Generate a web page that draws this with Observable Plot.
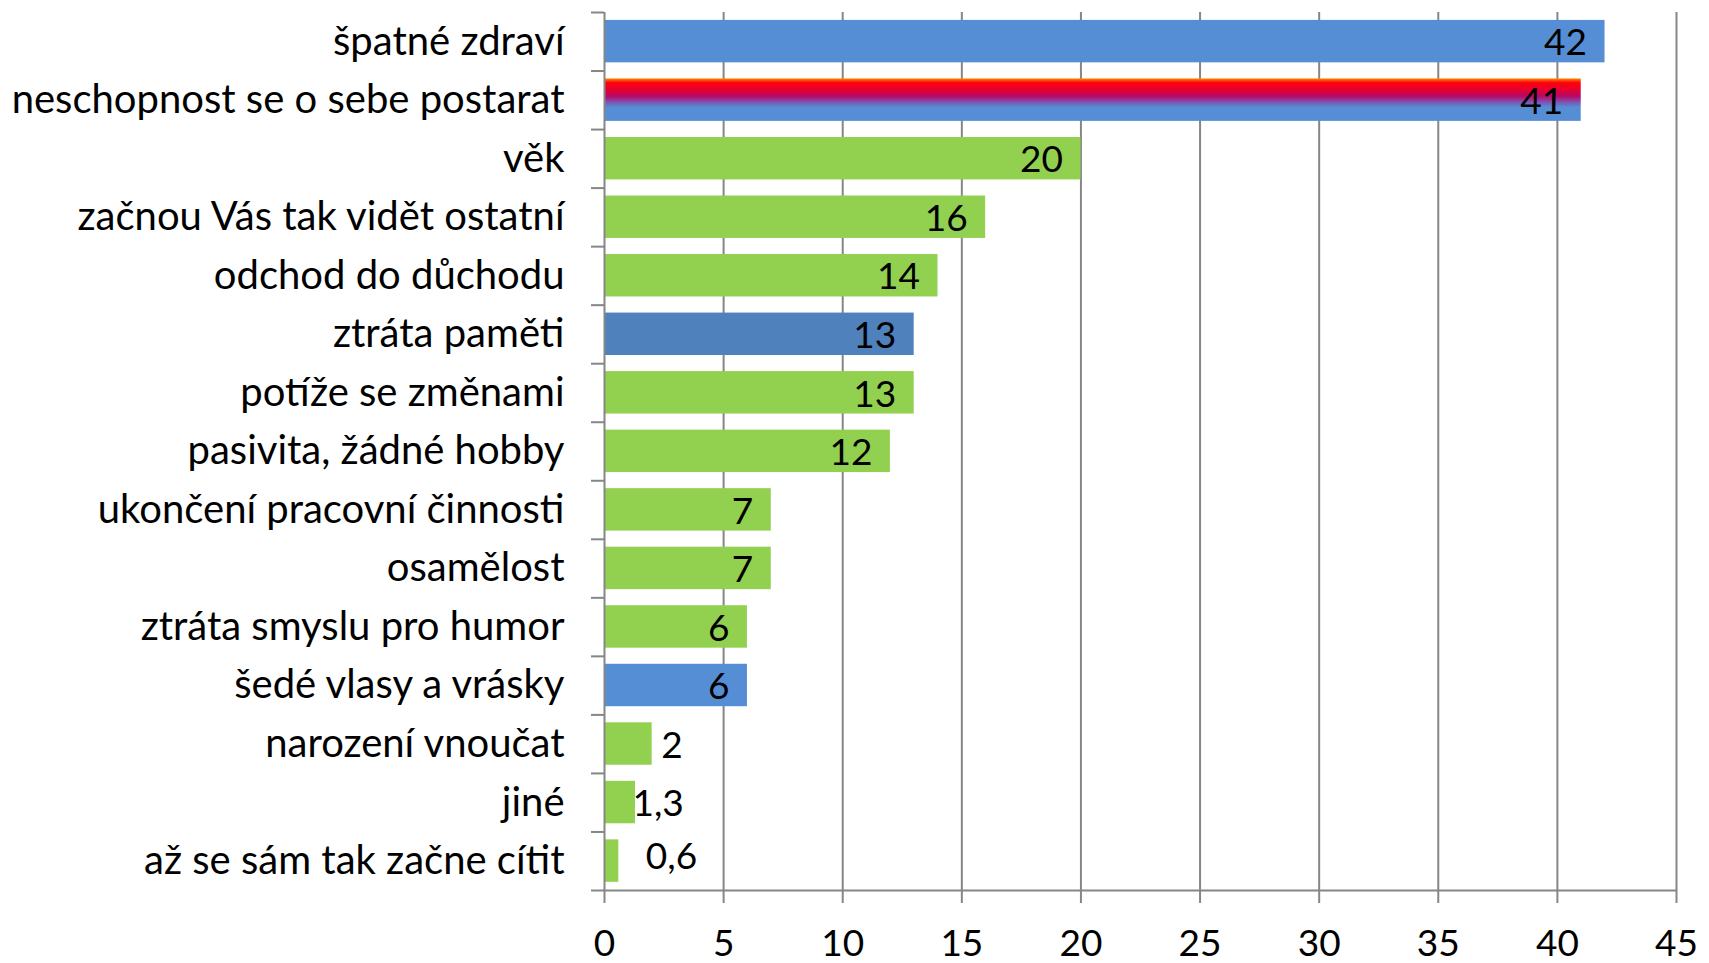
<!DOCTYPE html>
<html><head><meta charset="utf-8">
<script src="https://cdn.jsdelivr.net/npm/d3@7"></script>
<script src="https://cdn.jsdelivr.net/npm/@observablehq/plot@0.6"></script>
<style>body{margin:0;background:#fff}</style>
</head><body><div id="chart"></div>
<script>
const categories = ["špatné zdraví","neschopnost se o sebe postarat","věk","začnou Vás tak vidět ostatní","odchod do důchodu","ztráta paměti","potíže se změnami","pasivita, žádné hobby","ukončení pracovní činnosti","osamělost","ztráta smyslu pro humor","šedé vlasy a vrásky","narození vnoučat","jiné","až se sám tak začne cítit"];
const values = [42,41,20,16,14,13,13,12,7,7,6,6,2,1.3,0.6];
const colors = ["#558ED5","url(#grad41)","#92D050","#92D050","#92D050","#4F81BD","#92D050","#92D050","#92D050","#92D050","#92D050","#558ED5","#92D050","#92D050","#92D050"];
const labelInside = [true,true,true,true,true,true,true,true,true,true,true,true,false,false,false];
const outsideShift = [0,0,0,0,0,0,0,0,0,0,0,0,9,-3,27];
const outsideRaise = [0,0,0,0,0,0,0,0,0,0,0,0,0,0,-6];
const xTicks = [0,5,10,15,20,25,30,35,40,45];

const data = categories.map((c,i)=>({c,i,v:values[i],fill:colors[i],inside:labelInside[i],shift:outsideShift[i],raise:outsideRaise[i]}));
const fmt = v => String(v).replace(".", ",");
const font = "Lato, 'Open Sans', sans-serif";

const defs = () => {
  const ns = "http://www.w3.org/2000/svg";
  const d = document.createElementNS(ns,"defs");
  d.innerHTML = `<linearGradient id="grad41" x1="0" y1="0" x2="0" y2="1">
    <stop offset="0" stop-color="#FF8C00"/>
    <stop offset="0.1" stop-color="#FF0010"/>
    <stop offset="0.25" stop-color="#E8002A"/>
    <stop offset="0.42" stop-color="#B80868"/>
    <stop offset="0.55" stop-color="#8050B0"/>
    <stop offset="0.68" stop-color="#558ED5"/>
    <stop offset="1" stop-color="#558ED5"/></linearGradient>`;
  return d;
};

const chart = Plot.plot({
  width: 1709, height: 963,
  marginLeft: 604, marginRight: 33, marginTop: 12, marginBottom: 73,
  style: {fontFamily: font, fontSize: "37px", color: "#000", background: "#fff"},
  x: {domain: [0,45], ticks: xTicks},
  y: {domain: [0,15], reverse: true},
  marks: [
    defs,
    Plot.ruleX(xTicks.slice(1), {stroke: "#868686", strokeWidth: 2, strokeOpacity: 1}),
    Plot.rectX(data, {x1: 0, x2: "v", y1: d => d.i + 0.135, y2: d => d.i + 0.86, fill: "fill"}),
    Plot.ruleX([0], {stroke: "#868686", strokeWidth: 2}),
    Plot.ruleY([15], {stroke: "#868686", strokeWidth: 2}),
    Plot.axisX({ticks: xTicks, tickSize: 13, tickPadding: 26, stroke: "#868686", strokeWidth: 2, fontSize: 37, fill: "#000", label: null}),
    Plot.axisY({ticks: d3.range(16), tickSize: 13, tickFormat: () => "", stroke: "#868686", strokeWidth: 2, label: null}),
    Plot.axisY({ticks: d3.range(15).map(i => i + 0.5), tickSize: 0, tickPadding: 40, tickFormat: t => categories[Math.round(t - 0.5)], fontSize: 40, fill: "#000", label: null}),
    Plot.text(data.filter(d => d.inside), {x: "v", y: d => d.i + 0.53, text: d => fmt(d.v), textAnchor: "end", dx: -18, fontSize: 37, fill: "#000"}),
    ...data.filter(d => !d.inside).map(d => Plot.text([d], {x: "v", y: e => e.i + 0.53, text: e => fmt(e.v), textAnchor: "start", dx: d.shift, dy: d.raise, fontSize: 37, fill: "#000"}))
  ]
});
document.getElementById("chart").appendChild(chart);
</script></body></html>
